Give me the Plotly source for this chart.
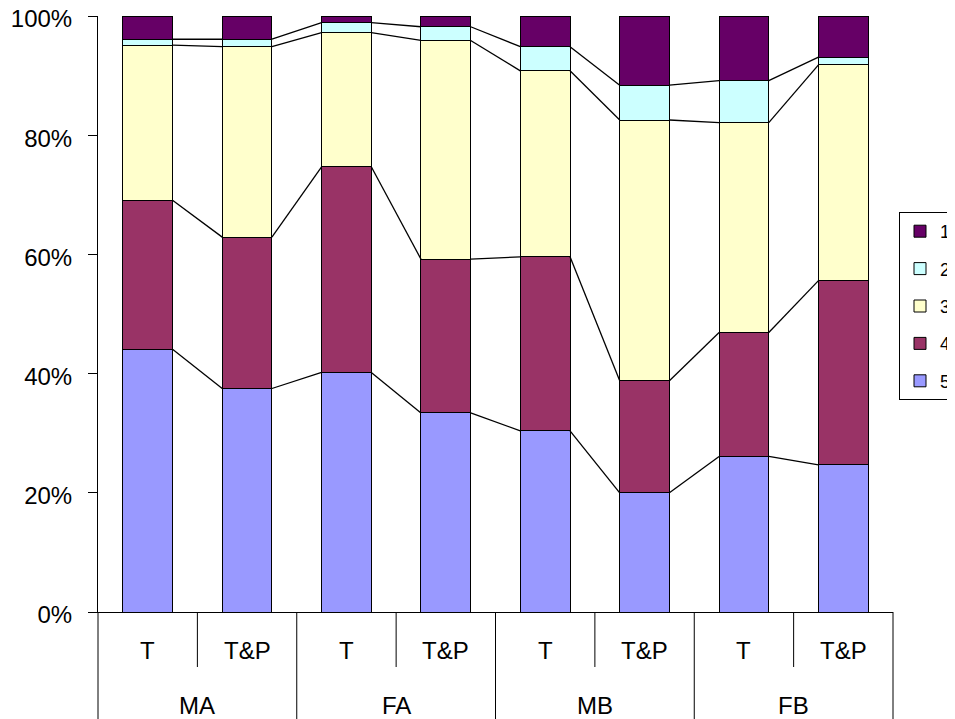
import numpy as np
import plotly.graph_objects as go

# ---- data ----
groups = ["MA", "FA", "MB", "FB"]
subcats = ["T", "T&P"]
series_names = ["1", "2", "3", "4", "5"]
s1 = [3.9, 3.9, 1.1, 1.8, 5.15, 11.6, 10.85, 6.9]
s2 = [1.0, 1.25, 1.7, 2.3, 4.05, 5.85, 7.05, 1.3]
s3 = [26.0, 31.95, 22.5, 36.7, 31.2, 43.75, 35.2, 36.2]
s4 = [25.0, 25.4, 34.5, 25.8, 29.2, 18.8, 20.8, 30.9]
s5 = [44.1, 37.5, 40.2, 33.4, 30.4, 20.0, 26.1, 24.7]
y_ticks = [0, 20, 40, 60, 80, 100]
y_ticktext = [f"{v}%" for v in y_ticks]

colors = {"1": "#660066", "2": "#CCFFFF", "3": "#FFFFCC", "4": "#993366", "5": "#9999FF"}
values = {"1": s1, "2": s2, "3": s3, "4": s4, "5": s5}

FONT = "Liberation Sans, Arial, sans-serif"
FS = 24
n = len(groups) * len(subcats)
xpos = np.arange(n)
BW = 0.5

fig = go.Figure()
stack_order = ["5", "4", "3", "2", "1"]  # bottom to top
for name in stack_order:
    fig.add_trace(go.Bar(
        x=xpos, y=values[name], name=name, width=BW,
        marker=dict(color=colors[name], line=dict(color="black", width=1)),
        legendgroup=name, legendrank=series_names.index(name) + 1,
    ))

# series lines connecting cumulative tops
cum = np.zeros(n)
lx, ly = [], []
for name in stack_order[:-1]:
    cum = cum + np.array(values[name])
    for i in range(n - 1):
        lx += [xpos[i] + BW / 2, xpos[i + 1] - BW / 2, None]
        ly += [cum[i], cum[i + 1], None]
fig.add_trace(go.Scatter(x=lx, y=ly, mode="lines", showlegend=False,
                         line=dict(color="black", width=1.3), hoverinfo="skip"))

# page body has an 8px margin: the figure is offset by 8px
W, H = 947, 711
ml, mr, mt, mb = 90, 62, 8, 107
ph = H - mt - mb
pw = W - ml - mr
sub_y = -38 / ph
grp_y = -93 / ph
inner_bot = -55 / ph
outer_bot = -mb / ph

shapes = []
for k in range(n + 1):
    outer = (k % len(subcats) == 0)
    shapes.append(dict(type="line", xref="paper", yref="paper",
                       x0=k / n, x1=k / n, y0=0, y1=outer_bot if outer else inner_bot,
                       line=dict(color="black", width=1)))

annotations = []
for gi, g in enumerate(groups):
    for si, s in enumerate(subcats):
        idx = gi * len(subcats) + si
        annotations.append(dict(x=xpos[idx], y=sub_y, xref="x", yref="paper", text=s,
                                showarrow=False, yanchor="middle",
                                font=dict(family=FONT, size=FS, color="black")))
    annotations.append(dict(x=(xpos[gi * 2] + xpos[gi * 2 + 1]) / 2, y=grp_y, xref="x",
                            yref="paper", text=g, showarrow=False, yanchor="middle",
                            font=dict(family=FONT, size=FS, color="black")))

fig.update_layout(
    width=W, height=H,
    margin=dict(l=ml, r=mr, t=mt, b=mb, autoexpand=False),
    barmode="stack",
    plot_bgcolor="white", paper_bgcolor="white",
    font=dict(family=FONT, color="black"),
    shapes=shapes, annotations=annotations,
    legend=dict(x=(899 - 98) / pw, xanchor="left", y=(612 - 212) / ph, yanchor="top",
                bordercolor="black", borderwidth=1, bgcolor="white",
                font=dict(family=FONT, size=18, color="black"),
                traceorder="grouped", tracegroupgap=11),
    xaxis=dict(range=[-0.5, n - 0.5], showticklabels=False, showline=True,
               linecolor="black", linewidth=1, ticks="", showgrid=False, zeroline=False),
    yaxis=dict(range=[0, 100], tickmode="array", tickvals=y_ticks, ticktext=y_ticktext,
               showline=True, linecolor="black", linewidth=1, ticks="outside", ticklen=9,
               tickcolor="black", showgrid=False, zeroline=False,
               ticklabelstandoff=11, ticklabeloverflow="allow", ticklabelshift=3,
               tickfont=dict(family=FONT, size=FS, color="black")),
)

fig.write_html("out.html")
